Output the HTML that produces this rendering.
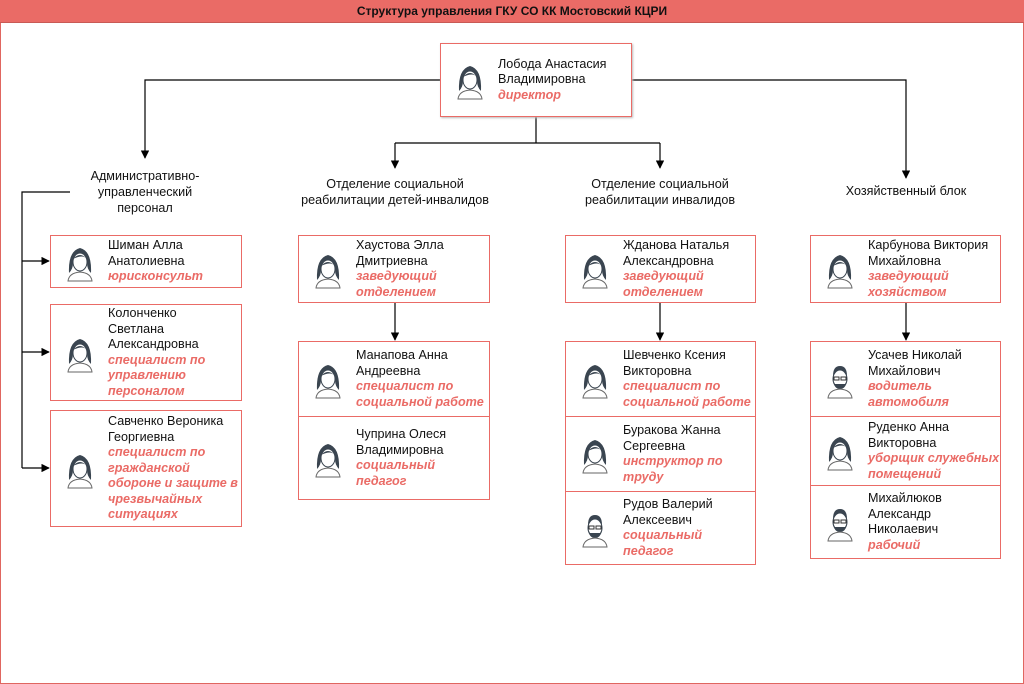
<!DOCTYPE html>
<html><head><meta charset="utf-8"><style>
body{margin:0;width:1024px;height:684px;position:relative;background:#fff;font-family:"Liberation Sans",sans-serif;overflow:hidden}
.frame{position:absolute;left:0;top:0;width:1022px;height:682px;border:1px solid #e06660}
.hdr{position:absolute;left:0;top:0;width:1024px;height:22px;background:#ea6b66;border-bottom:1px solid #c85a55;text-align:center;font-size:12px;font-weight:bold;line-height:22px;color:#111}
.c{position:absolute;border:1px solid #ea6b66;box-sizing:border-box;display:flex;align-items:center;background:#fff}
.c svg{position:absolute;left:14px;top:50%;margin-top:-20px}
.t{margin-left:57px;font-size:12.6px;line-height:15.5px;color:#111;white-space:nowrap}
.t i{color:#ea6b66;font-weight:bold;display:block}
.h{position:absolute;font-size:12.6px;line-height:16px;text-align:center;color:#111}
</style></head><body>
<div class="frame"></div>
<div class="hdr">Структура управления ГКУ СО КК Мостовский КЦРИ</div>
<svg width="0" height="0" style="position:absolute"><defs>
<symbol id="f" viewBox="0 0 30 38"><path d="M4 30 Q3 8 15 5 Q27 8 26 30 Q22 26 22 20 L8 20 Q8 26 4 30Z" fill="#3a4550"/><ellipse cx="15" cy="19" rx="7" ry="9" fill="#fff" stroke="#3a4550"/><path d="M8 16 Q15 8 22 16 Q18 11 8 16Z" fill="#3a4550"/><path d="M3 38 Q4 30 15 29 Q26 30 27 38Z" fill="#fff" stroke="#666"/></symbol>
<symbol id="m" viewBox="0 0 30 38"><path d="M8 16 Q8 6 15 6 Q22 6 22 16Z" fill="#3a4550"/><ellipse cx="15" cy="19" rx="7" ry="9" fill="#fff" stroke="#3a4550"/><path d="M8 20 Q9 29 15 29 Q21 29 22 20 L20 24 L10 24Z" fill="#3a4550"/><rect x="9" y="17" width="5" height="3" fill="none" stroke="#333"/><rect x="16" y="17" width="5" height="3" fill="none" stroke="#333"/><path d="M3 38 Q4 30 15 29 Q26 30 27 38Z" fill="#fff" stroke="#666"/></symbol>
<marker id="a" viewBox="0 0 10 10" refX="9" refY="5" markerWidth="7" markerHeight="7" orient="auto"><path d="M0 0L10 5L0 10Z" fill="#000"/></marker>
</defs></svg>
<svg style="position:absolute;left:0;top:0" width="1024" height="684" fill="none" stroke="#000" stroke-width="1.2">
<path d="M440 80H145V158" marker-end="url(#a)"/>
<path d="M632 80H906V178" marker-end="url(#a)"/>
<path d="M536 117V143"/>
<path d="M395 143H660"/>
<path d="M395 143V168" marker-end="url(#a)"/>
<path d="M660 143V168" marker-end="url(#a)"/>
<path d="M70 192H22V468"/>
<path d="M22 261H49" marker-end="url(#a)"/>
<path d="M22 352H49" marker-end="url(#a)"/>
<path d="M22 468H49" marker-end="url(#a)"/>
<path d="M395 303V340" marker-end="url(#a)"/>
<path d="M660 303V340" marker-end="url(#a)"/>
<path d="M906 303V340" marker-end="url(#a)"/>
</svg>
<div class="h" style="left:60px;top:168px;width:170px">Административно-<br>управленческий<br>персонал</div>
<div class="h" style="left:270px;top:176px;width:250px">Отделение социальной<br>реабилитации детей-инвалидов</div>
<div class="h" style="left:540px;top:176px;width:240px">Отделение социальной<br>реабилитации инвалидов</div>
<div class="h" style="left:820px;top:183px;width:172px">Хозяйственный блок</div>

<div class="c" style="left:440px;top:43px;width:192px;height:74px;box-shadow:1px 1px 2px #bbb"><svg width="30" height="40"><use href="#f"/></svg><div class="t">Лобода Анастасия<br>Владимировна<i>директор</i></div></div>

<div class="c" style="left:50px;top:235px;width:192px;height:53px"><svg width="30" height="40"><use href="#f"/></svg><div class="t">Шиман Алла<br>Анатолиевна<i>юрисконсульт</i></div></div>
<div class="c" style="left:50px;top:304px;width:192px;height:97px"><svg width="30" height="40"><use href="#f"/></svg><div class="t">Колонченко<br>Светлана<br>Александровна<i>специалист по<br>управлению<br>персоналом</i></div></div>
<div class="c" style="left:50px;top:410px;width:192px;height:117px"><svg width="30" height="40"><use href="#f"/></svg><div class="t">Савченко Вероника<br>Георгиевна<i>специалист по<br>гражданской<br>обороне и защите в<br>чрезвычайных<br>ситуациях</i></div></div>

<div class="c" style="left:298px;top:235px;width:192px;height:68px"><svg width="30" height="40"><use href="#f"/></svg><div class="t">Хаустова Элла<br>Дмитриевна<i>заведующий<br>отделением</i></div></div>
<div class="c" style="left:298px;top:341px;width:192px;height:76px"><svg width="30" height="40"><use href="#f"/></svg><div class="t">Манапова Анна<br>Андреевна<i>специалист по<br>социальной работе</i></div></div>
<div class="c" style="left:298px;top:416px;width:192px;height:84px"><svg width="30" height="40"><use href="#f"/></svg><div class="t">Чуприна Олеся<br>Владимировна<i>социальный<br>педагог</i></div></div>

<div class="c" style="left:565px;top:235px;width:191px;height:68px"><svg width="30" height="40"><use href="#f"/></svg><div class="t">Жданова Наталья<br>Александровна<i>заведующий<br>отделением</i></div></div>
<div class="c" style="left:565px;top:341px;width:191px;height:76px"><svg width="30" height="40"><use href="#f"/></svg><div class="t">Шевченко Ксения<br>Викторовна<i>специалист по<br>социальной работе</i></div></div>
<div class="c" style="left:565px;top:416px;width:191px;height:76px"><svg width="30" height="40"><use href="#f"/></svg><div class="t">Буракова Жанна<br>Сергеевна<i>инструктор по<br>труду</i></div></div>
<div class="c" style="left:565px;top:491px;width:191px;height:74px"><svg width="30" height="40"><use href="#m"/></svg><div class="t">Рудов Валерий<br>Алексеевич<i>социальный<br>педагог</i></div></div>

<div class="c" style="left:810px;top:235px;width:191px;height:68px"><svg width="30" height="40"><use href="#f"/></svg><div class="t">Карбунова Виктория<br>Михайловна<i>заведующий<br>хозяйством</i></div></div>
<div class="c" style="left:810px;top:341px;width:191px;height:76px"><svg width="30" height="40"><use href="#m"/></svg><div class="t">Усачев Николай<br>Михайлович<i>водитель<br>автомобиля</i></div></div>
<div class="c" style="left:810px;top:416px;width:191px;height:70px"><svg width="30" height="40"><use href="#f"/></svg><div class="t">Руденко Анна<br>Викторовна<i>уборщик служебных<br>помещений</i></div></div>
<div class="c" style="left:810px;top:485px;width:191px;height:74px"><svg width="30" height="40"><use href="#m"/></svg><div class="t">Михайлюков<br>Александр<br>Николаевич<i>рабочий</i></div></div>
</body></html>
